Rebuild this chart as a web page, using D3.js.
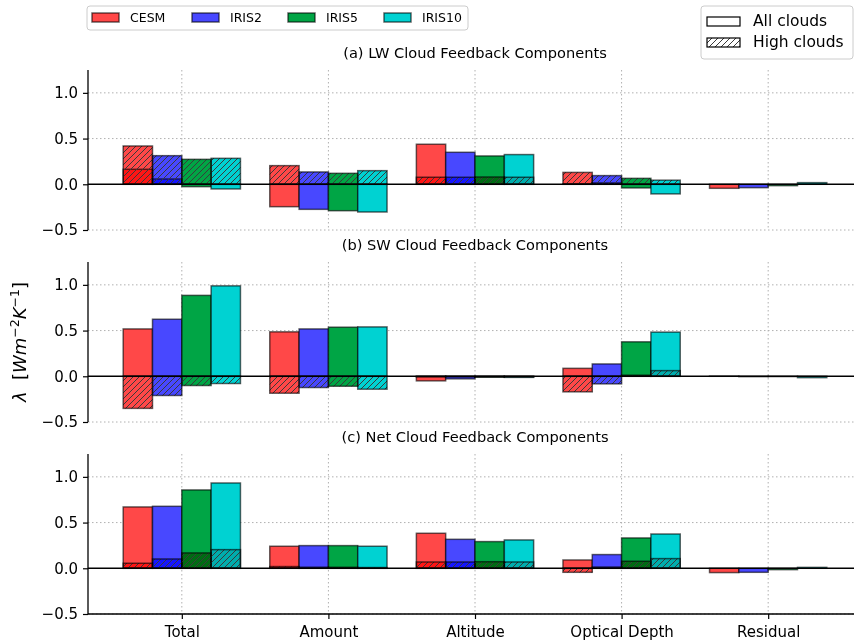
<!DOCTYPE html>
<html>
<head>
<meta charset="utf-8">
<script src="https://cdn.jsdelivr.net/npm/d3@7"></script>
<style>
  body { margin: 0; background: #fff; }
  svg { font-family: "DejaVu Sans", sans-serif; }
  .blend { mix-blend-mode: multiply; }
</style>
</head>
<body>
<div id="chart"></div>
<script>
(function() {
  var categories = ["Total", "Amount", "Altitude", "Optical Depth", "Residual"];
  var models = ["CESM", "IRIS2", "IRIS5", "IRIS10"];
  var colors = ["#ff4848", "#4848ff", "#00a545", "#00d2d2"];
  var yTicks = [-0.5, 0, 0.5, 1.0];
  var titles = ["(a) LW Cloud Feedback Components", "(b) SW Cloud Feedback Components", "(c) Net Cloud Feedback Components"];

  // one row per model, one value per category
  var lwAll = [
    [0.164, -0.245, 0.438, 0.005, -0.044],
    [0.058, -0.274, 0.350, 0.015, -0.037],
    [-0.026, -0.289, 0.310, -0.040, -0.015],
    [-0.051, -0.303, 0.325, -0.105, 0.018]
  ];
  var lwHigh = [
    [0.419, 0.204, 0.077, 0.130, 0.0],
    [0.313, 0.135, 0.077, 0.095, 0.0],
    [0.273, 0.120, 0.080, 0.065, 0.0],
    [0.284, 0.149, 0.077, 0.045, 0.0]
  ];
  var swAll = [
    [0.518, 0.486, -0.050, 0.087, 0.002],
    [0.624, 0.518, -0.028, 0.135, -0.004],
    [0.885, 0.537, -0.010, 0.377, -0.003],
    [0.989, 0.540, -0.012, 0.483, -0.015]
  ];
  var swHigh = [
    [-0.351, -0.185, -0.008, -0.170, 0.0],
    [-0.210, -0.123, -0.008, -0.083, 0.0],
    [-0.101, -0.109, -0.008, 0.012, 0.0],
    [-0.079, -0.141, -0.008, 0.062, 0.0]
  ];
  var netAll = [
    [0.671, 0.241, 0.383, 0.091, -0.047],
    [0.678, 0.248, 0.317, 0.150, -0.044],
    [0.857, 0.248, 0.292, 0.332, -0.015],
    [0.933, 0.241, 0.310, 0.375, 0.010]
  ];
  var netHigh = [
    [0.055, 0.019, 0.069, -0.044, 0.0],
    [0.102, 0.012, 0.069, 0.014, 0.0],
    [0.168, 0.011, 0.072, 0.077, 0.0],
    [0.204, 0.008, 0.069, 0.106, 0.0]
  ];

  var panels = [
    { all: lwAll, high: lwHigh },
    { all: swAll, high: swHigh },
    { all: netAll, high: netHigh }
  ];

  var W = 854, H = 641;
  var left = 88, right = 862;
  var tops = [70, 262, 454], ph = 160;
  var barW = 0.2;

  var svg = d3.select("#chart").append("svg").attr("width", W).attr("height", H);

  var defs = svg.append("defs");
  var pat = defs.append("pattern").attr("id", "hatch")
    .attr("patternUnits", "userSpaceOnUse").attr("width", 6).attr("height", 6);
  pat.append("path").attr("d", "M0,6 L6,0 M-1.5,1.5 L1.5,-1.5 M4.5,7.5 L7.5,4.5")
    .attr("stroke", "#3a3a3a").attr("stroke-width", 1);

  var x = d3.scaleLinear().domain([-0.64, 4.64]).range([left, right]);

  var bars = function(vals) {
    var out = [];
    vals.forEach(function(row, m) {
      row.forEach(function(v, c) {
        out.push({ m: m, c: c, v: v, x0: c + (m - 1.5) * barW - barW / 2 });
      });
    });
    return out;
  };

  panels.forEach(function(p, k) {
    var top = tops[k];
    var y = d3.scaleLinear().domain([-0.5, 1.25]).range([top + ph, top]);
    var g = svg.append("g");

    // grid
    g.selectAll(".hg").data(yTicks.filter(function(d) { return d !== 0; })).enter().append("line")
      .attr("x1", left).attr("x2", right).attr("y1", function(d) { return y(d); }).attr("y2", function(d) { return y(d); })
      .attr("stroke", "#b0b0b0").attr("stroke-width", 1).attr("stroke-dasharray", "1.5,2.5");
    g.selectAll(".vg").data(categories).enter().append("line")
      .attr("x1", function(d, i) { return x(i); }).attr("x2", function(d, i) { return x(i); })
      .attr("y1", top).attr("y2", top + ph)
      .attr("stroke", "#b0b0b0").attr("stroke-width", 1).attr("stroke-dasharray", "1.5,2.5");

    // all clouds
    g.selectAll(".all").data(bars(p.all)).enter().append("rect")
      .attr("x", function(d) { return x(d.x0); })
      .attr("width", function(d) { return x(d.x0 + barW) - x(d.x0); })
      .attr("y", function(d) { return y(Math.max(0, d.v)); })
      .attr("height", function(d) { return Math.abs(y(d.v) - y(0)); })
      .attr("fill", function(d) { return colors[d.m]; })
      .attr("stroke", "#000").attr("stroke-opacity", 0.6).attr("stroke-width", 1.5);

    // high clouds
    var hb = g.selectAll(".high").data(bars(p.high)).enter().append("g");
    hb.append("rect").attr("class", "blend")
      .attr("x", function(d) { return x(d.x0); })
      .attr("width", function(d) { return x(d.x0 + barW) - x(d.x0); })
      .attr("y", function(d) { return y(Math.max(0, d.v)); })
      .attr("height", function(d) { return Math.abs(y(d.v) - y(0)); })
      .attr("fill", function(d) { return colors[d.m]; });
    hb.append("rect")
      .attr("x", function(d) { return x(d.x0); })
      .attr("width", function(d) { return x(d.x0 + barW) - x(d.x0); })
      .attr("y", function(d) { return y(Math.max(0, d.v)); })
      .attr("height", function(d) { return Math.abs(y(d.v) - y(0)); })
      .attr("fill", "url(#hatch)")
      .attr("stroke", "#000").attr("stroke-opacity", 0.6).attr("stroke-width", 1.5);

    // zero line
    g.append("line").attr("x1", left).attr("x2", right).attr("y1", y(0)).attr("y2", y(0))
      .attr("stroke", "#000").attr("stroke-width", 1.5);

    var ax = g.append("g").attr("transform", "translate(" + left + ",0)")
      .call(d3.axisLeft(y).tickValues(yTicks).tickSize(5).tickPadding(5).tickFormat(d3.format(".1f")));
    ax.select(".domain").attr("d", "M0," + top + "V" + (top + ph)).attr("stroke-width", 1.3);
    ax.selectAll(".tick line").attr("stroke-width", 1.2);
    ax.selectAll("text").attr("font-size", 15).attr("font-family", "DejaVu Sans").attr("fill", "#000");

    g.append("text").attr("x", (left + right) / 2).attr("y", top - 12)
      .attr("text-anchor", "middle").attr("font-size", 14.6).text(titles[k]);

    if (k === 2) {
      var xa = g.append("g").attr("transform", "translate(0," + (top + ph) + ")")
        .call(d3.axisBottom(x).tickValues(d3.range(categories.length)).tickSize(5).tickPadding(7)
          .tickFormat(function(d) { return categories[d]; }));
      xa.select(".domain").attr("d", "M" + left + ",0H" + right).attr("stroke-width", 1.3);
      xa.selectAll(".tick line").attr("stroke-width", 1.2);
      xa.selectAll("text").attr("font-size", 15).attr("font-family", "DejaVu Sans").attr("fill", "#000");
    }
  });

  // y label
  var yl = svg.append("text").attr("transform", "translate(26,342) rotate(-90)")
    .attr("text-anchor", "middle").attr("font-size", 18);
  yl.append("tspan").attr("font-style", "italic").text("λ");
  yl.append("tspan").text("\u00a0\u00a0[");
  yl.append("tspan").attr("font-style", "italic").text("Wm");
  yl.append("tspan").attr("font-size", 12.5).attr("dy", -7).text("−2");
  yl.append("tspan").attr("font-style", "italic").attr("dy", 7).text("K");
  yl.append("tspan").attr("font-size", 12.5).attr("dy", -7).text("−1");
  yl.append("tspan").attr("dy", 7).text("]");

  // model legend
  var lg = svg.append("g");
  lg.append("rect").attr("x", 87).attr("y", 6).attr("width", 381).attr("height", 24).attr("rx", 3)
    .attr("fill", "#fff").attr("stroke", "#cccccc");
  var lx = [92, 192, 288, 384];
  models.forEach(function(m, i) {
    lg.append("rect").attr("x", lx[i]).attr("y", 13).attr("width", 27).attr("height", 9)
      .attr("fill", colors[i]).attr("stroke", "#000").attr("stroke-opacity", 0.6).attr("stroke-width", 1.5);
    lg.append("text").attr("x", lx[i] + 38).attr("y", 21.5).attr("font-size", 12.5).text(m);
  });

  // cloud type legend
  var lg2 = svg.append("g");
  lg2.append("rect").attr("x", 701).attr("y", 6).attr("width", 152).attr("height", 53).attr("rx", 3)
    .attr("fill", "#fff").attr("stroke", "#cccccc");
  ["All clouds", "High clouds"].forEach(function(t, i) {
    var yy = 17 + i * 21;
    lg2.append("rect").attr("x", 707).attr("y", yy).attr("width", 33).attr("height", 9)
      .attr("fill", i ? "url(#hatch)" : "#fff").attr("stroke", "#000").attr("stroke-width", 1.2);
    lg2.append("text").attr("x", 753).attr("y", yy + 9).attr("font-size", 15.5).text(t);
  });
}).call(this);
</script>
</body>
</html>
